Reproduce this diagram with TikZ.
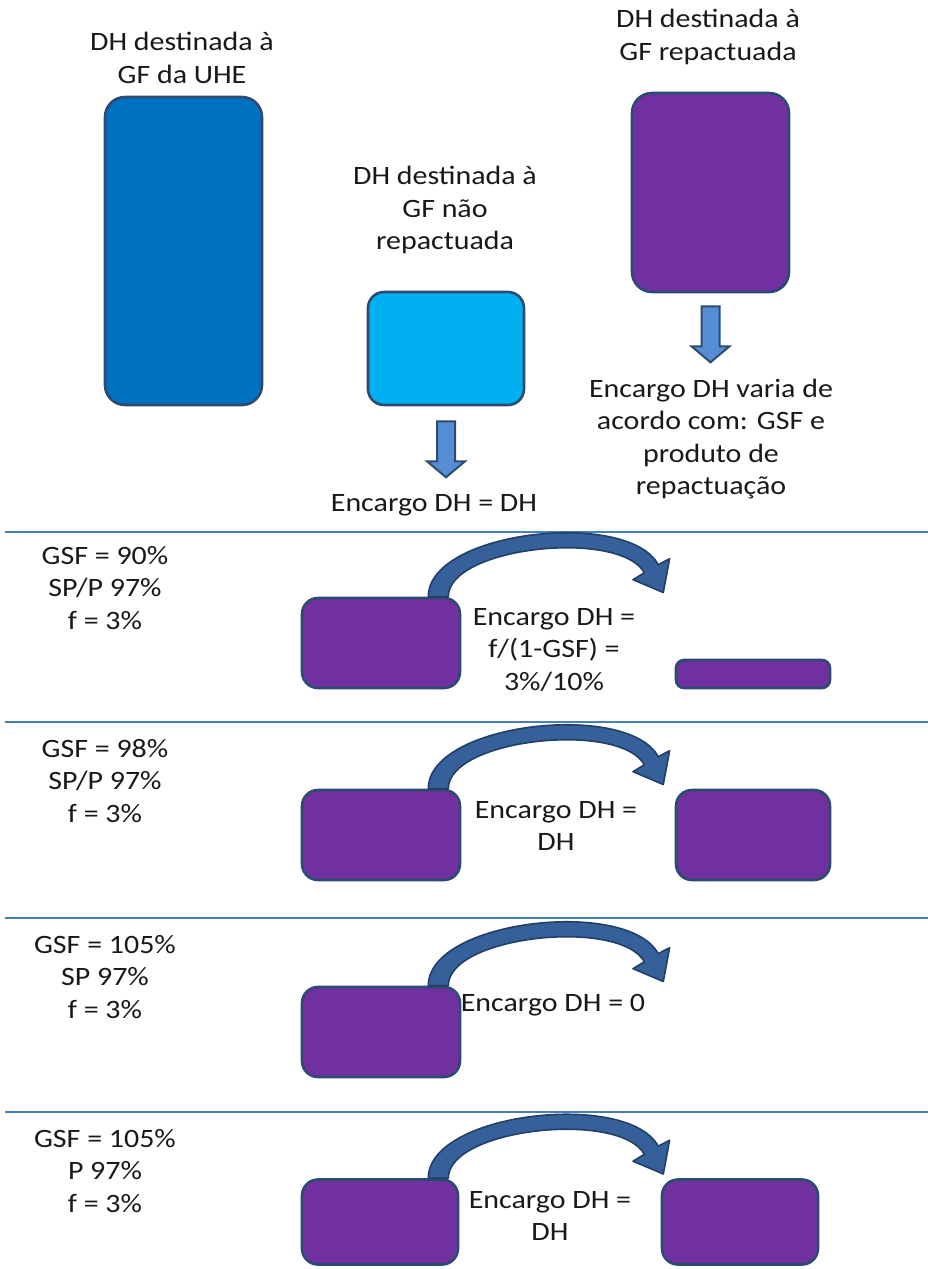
\documentclass[tikz,border=0pt]{standalone}
\usepackage{fontspec}
\setmainfont{Carlito}[FakeStretch=1.13]
\definecolor{edge}{HTML}{2C4B70}
\definecolor{bluebox}{HTML}{0070C0}
\definecolor{lightbox}{HTML}{00B0F0}
\definecolor{purplebox}{HTML}{7030A0}
\definecolor{downfill}{HTML}{558ED5}
\definecolor{arcfill}{HTML}{35609A}
\definecolor{arcedge}{HTML}{223F68}
\definecolor{sepline}{HTML}{4A7EBB}
\tikzset{
  box/.style={draw=edge, line width=2.6pt, rounded corners=16pt, inner sep=0pt},
  lbl/.style={align=center, inner sep=0pt, font=\fontsize{26.5}{32.5}\selectfont, text=black!90},
  sep/.style={draw=sepline, line width=1.8pt},
  downarrow/.pic={
    \draw[draw=edge, line width=2pt, fill=downfill, line join=miter]
      (-9,0) -- (9,0) -- (9,40) -- (19,40) -- (0,56) -- (-19,40) -- (-9,40) -- cycle;
  },
  bendarrow/.pic={
    \draw[draw=arcedge, line width=1.6pt, fill=arcfill, line join=round]
      (-10,0) .. controls (-10,-66) and (189.9,-88) .. (219.9,-32)
      -- (231.3,-38) -- (225,-4.2) -- (194.7,-17) -- (206.1,-24)
      .. controls (181,-68) and (10,-50) .. (10,0) -- cycle;
  }
}
\begin{document}
\begin{tikzpicture}[x=1pt,y=-1pt]
\useasboundingbox (0,0) rectangle (928,1269);
% top part
\node[lbl] (t1) at (182,58) {DH destinada à\\GF da UHE};
\node[box, fill=bluebox, minimum width=157pt, minimum height=308pt, rounded corners=20pt] (b1) at (183.5,251) {};
\node[lbl] (t2) at (445,210) {DH destinada à\\GF não\\repactuada};
\node[box, fill=lightbox, minimum width=156pt, minimum height=113pt] (b2) at (446,348.5) {};
\pic at ([yshift=-15pt]b2.south) {downarrow};
\node[lbl] (t3) at (434,505) {Encargo DH = DH};
\node[lbl] (t4) at (708,37) {DH destinada à\\GF repactuada};
\node[box, fill=purplebox, minimum width=157pt, minimum height=199pt, rounded corners=20pt] (b3) at (710.5,192.5) {};
\pic at ([yshift=-13pt]b3.south) {downarrow};
\node[lbl] (t5) at (711,439) {Encargo DH varia de\\acordo com: GSF e\\produto de\\repactuação};
% separators
\coordinate (l1a) at (5,532); \coordinate (l1b) at (928,532);
\coordinate (l2a) at (5,722); \coordinate (l2b) at (928,722);
\coordinate (l3a) at (5,918); \coordinate (l3b) at (928,918);
\coordinate (l4a) at (5,1112); \coordinate (l4b) at (928,1112);
\draw[sep] (l1a) -- (l1b);
\draw[sep] (l2a) -- (l2b);
\draw[sep] (l3a) -- (l3b);
\draw[sep] (l4a) -- (l4b);
% section 1
\node[lbl] (s1) at (105,588) {GSF = 90\%\\SP/P 97\%\\f = 3\%};
\node[box, fill=purplebox, minimum width=158pt, minimum height=90pt] (s1a) at (381,643) {};
\node[box, fill=purplebox, minimum width=154pt, minimum height=28pt, rounded corners=8pt] (s1b) at (753,674) {};
\pic at ([xshift=-23pt]s1a.north east) {bendarrow};
\node[lbl] (s1t) at (554,650) {Encargo DH =\\f/(1-GSF) =\\3\%/10\%};
% section 2
\node[lbl] (s2) at (105,781) {GSF = 98\%\\SP/P 97\%\\f = 3\%};
\node[box, fill=purplebox, minimum width=158pt, minimum height=90pt] (s2a) at (381,835) {};
\node[box, fill=purplebox, minimum width=154pt, minimum height=90pt] (s2b) at (753,835) {};
\pic at ([xshift=-23pt]s2a.north east) {bendarrow};
\node[lbl] (s2t) at (556,826) {Encargo DH =\\DH};
% section 3
\node[lbl] (s3) at (105,977) {GSF = 105\%\\SP 97\%\\f = 3\%};
\node[box, fill=purplebox, minimum width=158pt, minimum height=90pt] (s3a) at (381,1032) {};
\pic at ([xshift=-23pt]s3a.north east) {bendarrow};
\node[lbl] (s3t) at (553,1005) {Encargo DH = 0};
% section 4
\node[lbl] (s4) at (105,1171) {GSF = 105\%\\P 97\%\\f = 3\%};
\node[box, fill=purplebox, minimum width=156pt, minimum height=85pt] (s4a) at (380,1222) {};
\node[box, fill=purplebox, minimum width=156pt, minimum height=85pt] (s4b) at (740,1222) {};
\pic at ([xshift=-21pt]s4a.north east) {bendarrow};
\node[lbl] (s4t) at (550,1216) {Encargo DH =\\DH};
\end{tikzpicture}
\end{document}
